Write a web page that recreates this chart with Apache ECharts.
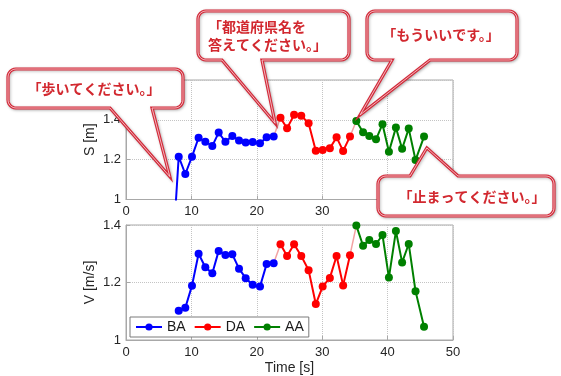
<!DOCTYPE html>
<html>
<head>
<meta charset="utf-8">
<script src="https://cdn.jsdelivr.net/npm/echarts@6/dist/echarts.min.js"></script>
<style>
  html, body { margin: 0; padding: 0; background: #fff; }
  #main { width: 561px; height: 376px; }
</style>
</head>
<body>
<div id="main"></div>
<script>
// Walking trial: step length S and walking speed V over time,
// split into three phases (BA = before task, DA = during task, AA = after task).
const tBA = [7.0, 8.06, 9.07, 10.09, 11.1, 12.13, 13.2, 14.17, 15.2, 16.26, 17.28, 18.3, 19.37, 20.49, 21.5, 22.58];
const sBA = [0.66, 1.215, 1.128, 1.215, 1.31, 1.29, 1.269, 1.336, 1.29, 1.319, 1.296, 1.286, 1.289, 1.282, 1.312, 1.316];
const vBA = [null, 1.102, 1.112, 1.189, 1.300, 1.253, 1.232, 1.310, 1.296, 1.298, 1.248, 1.215, 1.192, 1.186, 1.264, 1.267];

const tDA = [23.62, 24.63, 25.7, 26.8, 27.92, 29.02, 30.07, 31.17, 32.2, 33.2, 34.25];
const sDA = [1.41, 1.358, 1.425, 1.421, 1.383, 1.245, 1.249, 1.257, 1.312, 1.244, 1.316];
const vDA = [1.333, 1.292, 1.333, 1.292, 1.243, 1.125, 1.186, 1.216, 1.292, 1.19, 1.295];

const tAA = [35.22, 36.25, 37.2, 38.23, 39.22, 40.2, 41.27, 42.22, 43.23, 44.27, 45.57];
const sAA = [1.394, 1.338, 1.319, 1.302, 1.378, 1.24, 1.361, 1.255, 1.356, 1.198, 1.316];
const vAA = [1.398, 1.328, 1.348, 1.334, 1.365, 1.217, 1.379, 1.27, 1.334, 1.17, 1.046];

const phaseNames = ['BA', 'DA', 'AA'];
const phaseColors = ['#0000ff', '#ff0000', '#008000'];

// Speech-bubble annotations: text and the (time, S) point each one points at
const notes = [
  { text: '「歩いてください。」', at: [6.7, 1.115] },
  { text: '「都道府県名を\n答えてください。」', at: [22.8, 1.383] },
  { text: '「もういいです。」', at: [35.8, 1.425] },
  { text: '「止まってください。」', at: [46.0, 1.259] }
];

const tickFont = 'Liberation Sans';
const pairs = (t, y) => t.map((x, i) => [x, y[i]]);
const trim = v => String(+(+v).toFixed(1));

function axisCommon(gridIndex) {
  return {
    gridIndex,
    type: 'value',
    nameMoveOverlap: false,
    axisLine: { show: true, onZero: false, lineStyle: { color: '#a8a8a8', width: 1 } },
    axisTick: { show: true, inside: true, length: 4, lineStyle: { color: '#a8a8a8' } },
    splitLine: { show: true, lineStyle: { color: '#c4c4c4', type: 'dotted', width: 1 } },
    axisLabel: { fontFamily: tickFont, fontSize: 13, color: '#262626', formatter: trim },
    nameTextStyle: { fontFamily: tickFont, fontSize: 14, color: '#262626' }
  };
}

const phases = [
  { t: tBA, s: sBA, v: vBA },
  { t: tDA, s: sDA, v: vDA },
  { t: tAA, s: sAA, v: vAA }
];

const series = [];
[0, 1].forEach(g => {
  phases.forEach((p, k) => {
    series.push({
      name: phaseNames[k],
      type: 'line',
      xAxisIndex: g, yAxisIndex: g,
      data: pairs(p.t, g === 0 ? p.s : p.v),
      symbol: 'circle', symbolSize: 8, showSymbol: true,
      lineStyle: { width: 2, color: phaseColors[k] },
      itemStyle: { color: phaseColors[k] },
      clip: true, z: 3,
      emphasis: { disabled: true }
    });
  });
  // faint joins between consecutive phases
  for (let k = 0; k < 2; k++) {
    const a = phases[k], b = phases[k + 1];
    const ya = g === 0 ? a.s : a.v, yb = g === 0 ? b.s : b.v;
    series.push({
      name: 'join' + g + k,
      type: 'line',
      xAxisIndex: g, yAxisIndex: g,
      data: [[a.t[a.t.length - 1], ya[ya.length - 1]], [b.t[0], yb[0]]],
      showSymbol: false, symbol: 'none',
      lineStyle: { width: 1.5, color: '#f2a2a2' },
      z: 2, silent: true
    });
  }
});

const chart = echarts.init(document.getElementById('main'));
chart.setOption({
  animation: false,
  backgroundColor: '#fff',
  grid: [
    { left: 126, top: 80, width: 327, height: 119.5, show: true, borderColor: '#a8a8a8', borderWidth: 1, backgroundColor: 'transparent' },
    { left: 126, top: 225, width: 327, height: 115, show: true, borderColor: '#a8a8a8', borderWidth: 1, backgroundColor: 'transparent' }
  ],
  xAxis: [
    Object.assign(axisCommon(0), { min: 0, max: 50, interval: 10, axisLabel: Object.assign(axisCommon(0).axisLabel, { margin: 5 }) }),
    Object.assign(axisCommon(1), { min: 0, max: 50, interval: 10, name: 'Time [s]', nameLocation: 'middle', nameGap: 21,
      axisLabel: Object.assign(axisCommon(1).axisLabel, { margin: 6 }) })
  ],
  yAxis: [
    Object.assign(axisCommon(0), { min: 1, max: 1.6, interval: 0.2, name: 'S [m]', nameLocation: 'middle', nameGap: 29,
      axisLabel: Object.assign(axisCommon(0).axisLabel, { margin: 5 }) }),
    Object.assign(axisCommon(1), { min: 1, max: 1.4, interval: 0.2, name: 'V [m/s]', nameLocation: 'middle', nameGap: 29,
      axisLabel: Object.assign(axisCommon(1).axisLabel, { margin: 5 }) })
  ],
  legend: {
    data: phaseNames,
    left: 130, top: 317,
    orient: 'horizontal',
    itemWidth: 26, itemHeight: 9, itemGap: 8,
    padding: [3, 5, 3, 5],
    borderColor: '#7a7a7a', borderWidth: 1, borderRadius: 0,
    backgroundColor: '#fff',
    textStyle: { fontFamily: tickFont, fontSize: 14, color: '#1a1a1a' },
    selectedMode: false,
    z: 10
  },
  series
});

// Outline points of a rounded bubble with a pointer on its top or bottom edge
function bubblePoints(b, side, a, c, tip) {
  const x = b.x, y = b.y, x2 = b.x + b.w, y2 = b.y + b.h, r = b.r;
  const pts = [];
  const arc = (cx, cy, a0, a1) => {
    const n = 6;
    for (let i = 0; i <= n; i++) {
      const t = a0 + (a1 - a0) * i / n;
      pts.push([cx + r * Math.cos(t), cy + r * Math.sin(t)]);
    }
  };
  const P = Math.PI;
  arc(x + r, y + r, P, 1.5 * P);               // top-left corner
  if (side === 'top') { pts.push([a, y], tip, [c, y]); }
  arc(x2 - r, y + r, 1.5 * P, 2 * P);          // top-right corner
  arc(x2 - r, y2 - r, 0, 0.5 * P);             // bottom-right corner
  if (side === 'bottom') { pts.push([c, y2], tip, [a, y2]); }
  arc(x + r, y2 - r, 0.5 * P, P);              // bottom-left corner
  return pts;
}

const bubbleLayout = [
  { box: { x: 8, y: 69, w: 175, h: 39, r: 8 }, side: 'bottom', a: 110, c: 152, text: { x: 94, y: 89, align: 'center' } },
  { box: { x: 198, y: 11, w: 151, h: 49, r: 8 }, side: 'bottom', a: 222, c: 262, text: { x: 208, y: 36, align: 'left' } },
  { box: { x: 367, y: 11, w: 150, h: 49, r: 8 }, side: 'bottom', a: 392, c: 430, text: { x: 441, y: 35, align: 'center' } },
  { box: { x: 378, y: 176, w: 176, h: 40, r: 8 }, side: 'top', a: 410, c: 458, text: { x: 472, y: 196.5, align: 'center' } }
];

const graphic = [];
notes.forEach((n, i) => {
  const L = bubbleLayout[i];
  const tip = chart.convertToPixel({ xAxisIndex: 0, yAxisIndex: 0 }, n.at);
  const pts = bubblePoints(L.box, L.side, L.a, L.c, tip);
  graphic.push({
    type: 'polygon', z: 100, silent: true,
    shape: { points: pts },
    style: { fill: '#fff', stroke: '#d32a3a', lineWidth: 3.2, lineJoin: 'miter',
      shadowBlur: 3, shadowColor: 'rgba(0,0,0,0.25)', shadowOffsetX: 1, shadowOffsetY: 1 }
  });
  graphic.push({
    type: 'polygon', z: 101, silent: true,
    shape: { points: pts },
    style: { fill: 'none', stroke: '#fbd9dc', lineWidth: 0.8, lineJoin: 'miter' }
  });
  graphic.push({
    type: 'text', z: 102, silent: true,
    x: L.text.x, y: L.text.y,
    style: {
      text: n.text, fill: '#d2282f',
      font: 'bold 14px "Noto Sans CJK JP"',
      align: L.text.align, verticalAlign: 'middle', lineHeight: 18
    }
  });
});
chart.setOption({ graphic });
</script>
</body>
</html>
